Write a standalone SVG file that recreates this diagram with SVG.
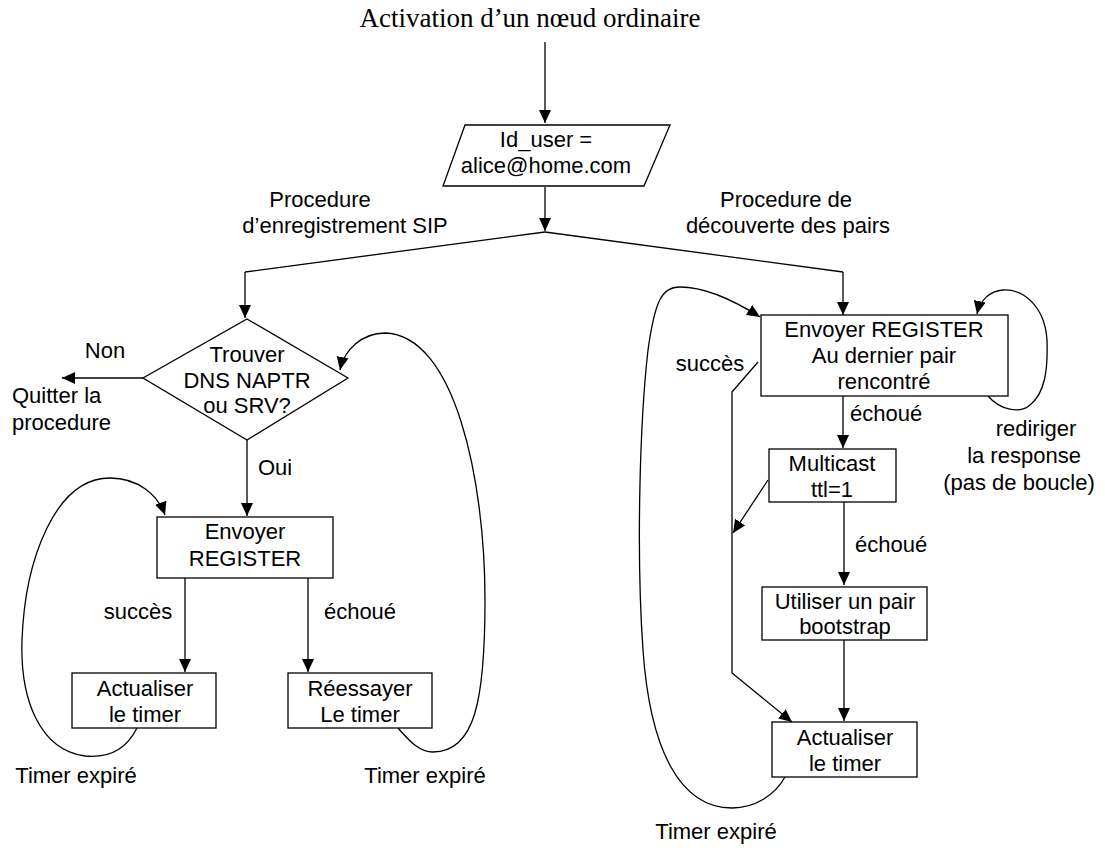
<svg xmlns="http://www.w3.org/2000/svg" width="1105" height="848" viewBox="0 0 1105 848">
<defs>
<marker id="ah" markerUnits="userSpaceOnUse" markerWidth="14" markerHeight="14" viewBox="0 0 14 14" refX="13" refY="7" orient="auto">
<path d="M0,1 L13,7 L0,13 Z" fill="#000"/>
</marker>
<style>
.t{font-family:"Liberation Sans",Arial,sans-serif;font-size:22px;fill:#000;text-anchor:middle}
.l{text-anchor:start}
.b{fill:#fff;stroke:#000;stroke-width:1.3}
.c{fill:none;stroke:#000;stroke-width:1.3}
.a{marker-end:url(#ah)}
</style>
</defs>
<rect width="1105" height="848" fill="#fff"/>
<text x="530" y="27" style="font-family:'Liberation Serif','Times New Roman',serif;font-size:27px;text-anchor:middle">Activation d’un nœud ordinaire</text>

<g id="connectors">
<path class="c a" d="M545,42 V123"/>
<path class="c a" d="M545,187 V231"/>
<path class="c" d="M545,232 L245,272"/>
<path class="c a" d="M245,272 V318"/>
<path class="c" d="M545,232 L843,272"/>
<path class="c a" d="M843,272 V315"/>
<path class="c a" d="M143,378 H62"/>
<path class="c a" d="M247,440 V516"/>
<path class="c a" d="M185,578 V672"/>
<path class="c a" d="M308,578 V672"/>
<path class="c a" d="M137,728 C125,752 105,758 85,756 C40,750 20,700 22,640 C25,560 55,478 110,478 C138,478 158,495 165,515"/>
<path class="c a" d="M398,728 C410,742 420,752 433,752 C475,752 485,700 485,600 C485,480 455,335 385,333 C362,333 344,350 340,370"/>
<path class="c a" d="M843,396 V448"/>
<path class="c a" d="M844,502 V585"/>
<path class="c a" d="M844,640 V721"/>
<path class="c a" d="M758,362 L732,392 V673 L792,722"/>
<path class="c a" d="M768,480 L733,533"/>
<path class="c a" d="M988,396 C1000,410 1020,414 1030,405 C1045,393 1048,370 1047,340 C1045,308 1025,289 1003,290 C990,291 980,300 977,314"/>
<path class="c a" d="M785,777 C775,795 755,808 732,808 C680,808 650,750 643,650 C636,550 640,420 648,350 C655,300 662,287 680,287 C708,287 738,303 760,317"/>
</g>

<g id="n_user">
<polygon class="b" points="465,125 670,125 644,186 443,186"/>
<text class="t" x="546" y="147">Id_user =</text>
<text class="t" x="546" y="173">alice@home.com</text>
</g>

<g id="lbl_sip">
<text class="t" x="320" y="207">Procedure</text>
<text class="t" x="345" y="233">d’enregistrement SIP</text>
</g>
<g id="lbl_disc">
<text class="t" x="786" y="207">Procedure de</text>
<text class="t" x="788" y="233">découverte des pairs</text>
</g>

<g id="n_dns">
<polygon class="b" points="247,319 348,378 247,440 143,378"/>
<text class="t" x="247" y="362">Trouver</text>
<text class="t" x="247" y="388">DNS NAPTR</text>
<text class="t" x="247" y="413">ou SRV?</text>
</g>

<g id="lbl_non"><text class="t" x="105" y="358">Non</text></g>
<g id="n_quit">
<text class="t l" x="12" y="403">Quitter la</text>
<text class="t l" x="12" y="430">procedure</text>
</g>
<g id="lbl_oui"><text class="t l" x="258" y="475">Oui</text></g>

<g id="n_reg">
<rect class="b" x="157" y="517" width="176" height="61"/>
<text class="t" x="245" y="539">Envoyer</text>
<text class="t" x="245" y="566">REGISTER</text>
</g>

<g id="lbl_succ1"><text class="t" x="138" y="619">succès</text></g>
<g id="lbl_ech1"><text class="t" x="360" y="619">échoué</text></g>

<g id="n_act1">
<rect class="b" x="72" y="673" width="144" height="55"/>
<text class="t" x="145" y="696">Actualiser</text>
<text class="t" x="145" y="722">le timer</text>
</g>
<g id="n_retry">
<rect class="b" x="288" y="673" width="144" height="55"/>
<text class="t" x="360" y="696">Réessayer</text>
<text class="t" x="360" y="722">Le timer</text>
</g>

<g id="lbl_te1"><text class="t" x="76" y="783">Timer expiré</text></g>
<g id="lbl_te2"><text class="t" x="425" y="783">Timer expiré</text></g>

<g id="n_regpair">
<rect class="b" x="761" y="315" width="247" height="81"/>
<text class="t" x="884" y="337">Envoyer REGISTER</text>
<text class="t" x="884" y="363">Au dernier pair</text>
<text class="t" x="884" y="389">rencontré</text>
</g>
<g id="lbl_succ2"><text class="t" x="710" y="371">succès</text></g>
<g id="lbl_ech2"><text class="t l" x="850" y="421">échoué</text></g>
<g id="lbl_redir">
<text class="t" x="1036" y="436">rediriger</text>
<text class="t" x="1024" y="463">la response</text>
<text class="t" x="1019" y="490">(pas de boucle)</text>
</g>

<g id="n_multi">
<rect class="b" x="769" y="449" width="127" height="53"/>
<text class="t" x="832" y="471">Multicast</text>
<text class="t" x="832" y="497">ttl=1</text>
</g>
<g id="lbl_ech3"><text class="t l" x="855" y="552">échoué</text></g>

<g id="n_boot">
<rect class="b" x="762" y="587" width="165" height="53"/>
<text class="t" x="845" y="609">Utiliser un pair</text>
<text class="t" x="845" y="634">bootstrap</text>
</g>

<g id="n_act2">
<rect class="b" x="772" y="722" width="145" height="55"/>
<text class="t" x="845" y="745">Actualiser</text>
<text class="t" x="845" y="771">le timer</text>
</g>
<g id="lbl_te3"><text class="t" x="716" y="839">Timer expiré</text></g>
</svg>
